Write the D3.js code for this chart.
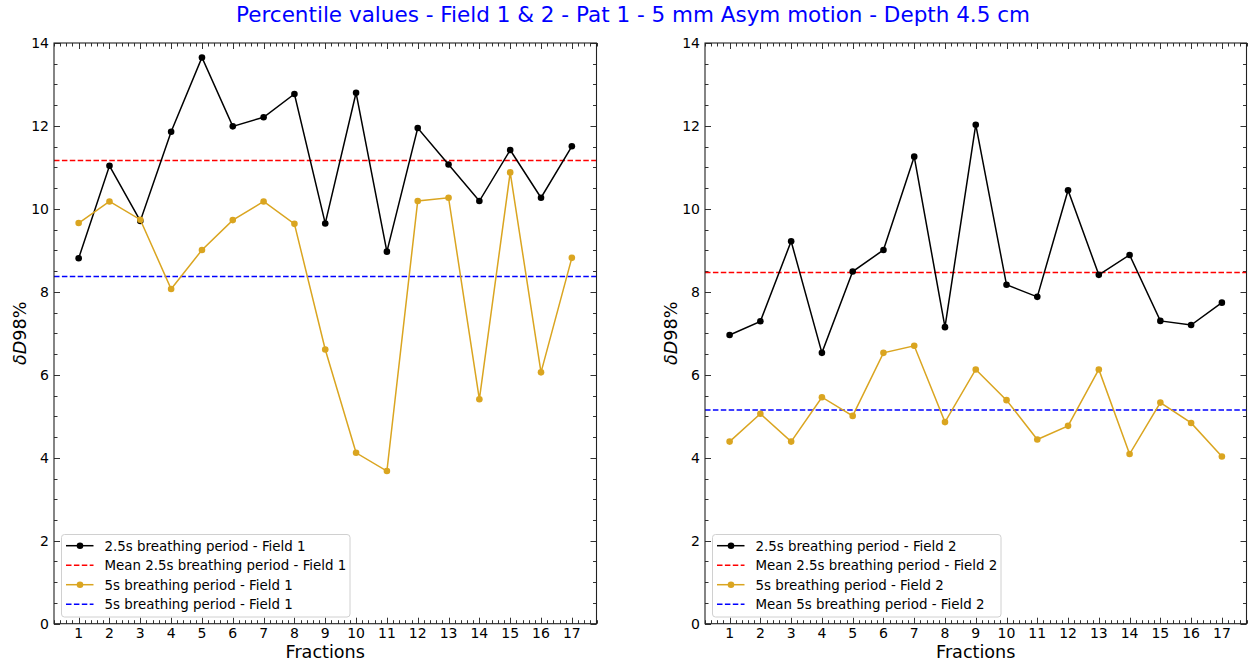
<!DOCTYPE html>
<html>
<head>
<meta charset="utf-8">
<script src="https://cdn.jsdelivr.net/npm/d3@7"></script>
<style>
  html, body { margin: 0; padding: 0; background: #fff; }
  svg text { font-family: "DejaVu Sans", sans-serif; }
</style>
</head>
<body>
<svg id="chart" width="1249" height="663"></svg>
<script>
// Treatment fractions
const fractions = [1, 2, 3, 4, 5, 6, 7, 8, 9, 10, 11, 12, 13, 14, 15, 16, 17];

// δD98% per fraction
const field1Period25 = [8.81, 11.04, 9.71, 11.86, 13.65, 11.99, 12.21, 12.77, 9.65, 12.80, 8.97, 11.95, 11.07, 10.19, 11.42, 10.27, 11.51];
const field1Period5  = [9.66, 10.18, 9.74, 8.07, 9.01, 9.73, 10.18, 9.64, 6.61, 4.12, 3.68, 10.19, 10.27, 5.41, 10.88, 6.06, 8.82];
const field2Period25 = [6.96, 7.29, 9.22, 6.53, 8.49, 9.01, 11.26, 7.15, 12.03, 8.17, 7.88, 10.45, 8.41, 8.89, 7.30, 7.20, 7.74];
const field2Period5  = [4.39, 5.06, 4.39, 5.46, 5.01, 6.53, 6.70, 4.86, 6.13, 5.39, 4.44, 4.77, 6.13, 4.09, 5.33, 4.84, 4.03];

const yTicks = [0, 2, 4, 6, 8, 10, 12, 14];

const titleText = "Percentile values - Field 1 & 2 - Pat 1 - 5 mm Asym motion - Depth 4.5 cm";
const field1Labels = [
  "2.5s breathing period - Field 1",
  "Mean 2.5s breathing period - Field 1",
  "5s breathing period - Field 1",
  "5s breathing period - Field 1"
];
const field2Labels = [
  "2.5s breathing period - Field 2",
  "Mean 2.5s breathing period - Field 2",
  "5s breathing period - Field 2",
  "Mean 5s breathing period - Field 2"
];

const COL_BLACK = "#000000";
const COL_GOLD = "#daa520";
const COL_RED = "#ff0000";
const COL_BLUE = "#0000ff";

const svg = d3.select("#chart");

svg.append("text")
  .attr("x", 633).attr("y", 22)
  .attr("text-anchor", "middle")
  .attr("font-size", 21.5)
  .attr("fill", "#0000ff")
  .text(titleText);

function drawPanel(left, right, seriesA, seriesB, labels) {
  const top = 43, bottom = 623.7;
  const x = d3.scaleLinear().domain([0.2, 17.8]).range([left, right]);
  const y = d3.scaleLinear().domain([0, 14]).range([bottom, top]);
  const g = svg.append("g");

  const xMinor = d3.range(0.2, 17.81, 0.2).map(v => +v.toFixed(1)).filter(v => !fractions.includes(v));
  const yMinor = d3.range(0, 14.01, 0.5).filter(v => !yTicks.includes(v));

  // tick marks pointing inward on all four sides
  const tickG = g.append("g").attr("stroke", "#333").attr("stroke-width", 1);
  function vTicks(vals, len) {
    vals.forEach(v => {
      const px = Math.round(x(v)) + 0.5;
      tickG.append("line").attr("x1", px).attr("x2", px).attr("y1", bottom).attr("y2", bottom - len);
      tickG.append("line").attr("x1", px).attr("x2", px).attr("y1", top).attr("y2", top + len);
    });
  }
  function hTicks(vals, len) {
    vals.forEach(v => {
      const py = Math.round(y(v)) + 0.5;
      tickG.append("line").attr("y1", py).attr("y2", py).attr("x1", left).attr("x2", left + len);
      tickG.append("line").attr("y1", py).attr("y2", py).attr("x1", right).attr("x2", right - len);
    });
  }
  vTicks(fractions, 6); vTicks(xMinor, 3.5);
  hTicks(yTicks, 6); hTicks(yMinor, 3.5);

  // tick labels
  g.append("g").selectAll("text").data(fractions).join("text")
    .attr("x", d => x(d)).attr("y", 638)
    .attr("text-anchor", "middle").attr("font-size", 14).attr("fill", "#000")
    .text(d => d);
  g.append("g").selectAll("text").data(yTicks).join("text")
    .attr("x", left - 5).attr("y", d => y(d) + 5)
    .attr("text-anchor", "end").attr("font-size", 14).attr("fill", "#000")
    .text(d => d);

  // axis titles
  g.append("text")
    .attr("x", (left + right) / 2).attr("y", 658)
    .attr("text-anchor", "middle").attr("font-size", 17.6).attr("fill", "#000")
    .text("Fractions");
  const yl = g.append("text")
    .attr("transform", `translate(${left - 28},${(top + bottom) / 2}) rotate(-90)`)
    .attr("text-anchor", "middle").attr("font-size", 17.6).attr("fill", "#000");
  yl.append("tspan").attr("font-style", "italic").text("δD");
  yl.append("tspan").text("98%");

  const meanA = d3.mean(seriesA), meanB = d3.mean(seriesB);
  const line = d3.line().x((d, i) => x(fractions[i])).y(d => y(d));

  const plot = g.append("g");
  plot.append("line")
    .attr("x1", left).attr("x2", right).attr("y1", y(meanA)).attr("y2", y(meanA))
    .attr("stroke", COL_RED).attr("stroke-width", 1.5).attr("stroke-dasharray", "5.5,2.4");
  plot.append("line")
    .attr("x1", left).attr("x2", right).attr("y1", y(meanB)).attr("y2", y(meanB))
    .attr("stroke", COL_BLUE).attr("stroke-width", 1.5).attr("stroke-dasharray", "5.5,2.4");

  [[seriesA, COL_BLACK], [seriesB, COL_GOLD]].forEach(([s, c]) => {
    plot.append("path").datum(s).attr("d", line)
      .attr("fill", "none").attr("stroke", c).attr("stroke-width", 1.5);
    plot.append("g").selectAll("circle").data(s).join("circle")
      .attr("cx", (d, i) => x(fractions[i])).attr("cy", d => y(d))
      .attr("r", 3.3).attr("fill", c);
  });

  // frame
  g.append("rect")
    .attr("x", left).attr("y", top).attr("width", right - left).attr("height", bottom - top)
    .attr("fill", "none").attr("stroke", "#222").attr("stroke-width", 1.1);

  // legend
  const lg = g.append("g");
  const lx = left + 7.5, ly = 534.5;
  const lw = 288.5;
  lg.append("rect")
    .attr("x", lx).attr("y", ly).attr("width", lw).attr("height", 82.5)
    .attr("rx", 3).attr("fill", "#fff").attr("fill-opacity", 0.8)
    .attr("stroke", "#d0d0d0").attr("stroke-width", 1);
  const styles = [
    { c: COL_BLACK, dash: null, marker: true },
    { c: COL_RED, dash: "5.5,2.4", marker: false },
    { c: COL_GOLD, dash: null, marker: true },
    { c: COL_BLUE, dash: "5.5,2.4", marker: false }
  ];
  labels.forEach((lab, i) => {
    const ry = 545.7 + i * 19.5;
    const st = styles[i];
    const ln = lg.append("line")
      .attr("x1", lx + 4.5).attr("x2", lx + 32).attr("y1", ry).attr("y2", ry)
      .attr("stroke", st.c).attr("stroke-width", 1.5);
    if (st.dash) ln.attr("stroke-dasharray", st.dash);
    if (st.marker) lg.append("circle").attr("cx", lx + 18.5).attr("cy", ry).attr("r", 3.3).attr("fill", st.c);
    lg.append("text")
      .attr("x", lx + 43).attr("y", ry + 5)
      .attr("font-size", 13.4).attr("fill", "#000")
      .text(lab);
  });
}

drawPanel(54, 596.5, field1Period25, field1Period5, field1Labels);
drawPanel(705, 1246.5, field2Period25, field2Period5, field2Labels);
</script>
</body>
</html>
